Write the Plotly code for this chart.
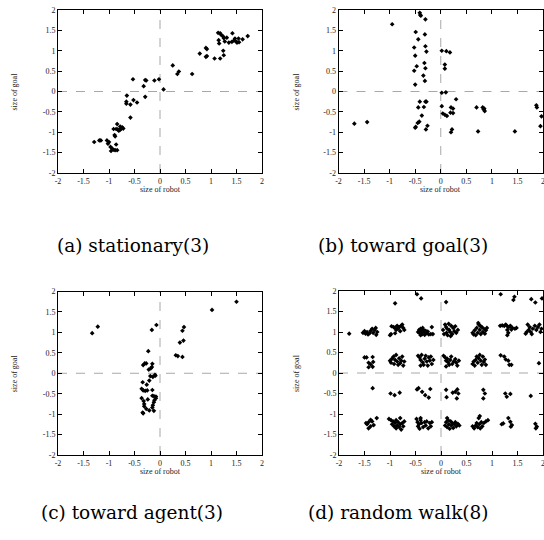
import plotly.graph_objects as go

# ---------------- data ----------------
tick_vals = [-2, -1.5, -1, -0.5, 0, 0.5, 1, 1.5, 2]
tick_text = ["-2", "-1.5", "-1", "-0.5", "0", "0.5", "1", "1.5", "2"]

captions = ["(a) stationary(3)", "(b) toward goal(3)", "(c) toward agent(3)", "(d) random walk(8)"]
x_title = "size of robot"
y_title = "size of goal"

a_x = [-1.29, -1.19, -1.16, -1.04, -1.00, -1.02, -0.97, -0.94, -0.96, -0.91, -0.88, -0.84, -0.86,
       -0.88, -0.89, -0.91, -0.86, -0.83, -0.84, -0.79, -0.76, -0.74, -0.78, -0.81, -0.72, -0.58,
       -0.66, -0.66, -0.65, -0.58, -0.52, -0.45, -0.53, -0.32, -0.29, -0.29, -0.27, -0.11, -0.02,
       0.07, 0.25, 0.34, 0.37, 0.63, 0.78, 0.90, 0.92, 0.90, 0.92, 1.07, 1.15, 1.16, 1.14, 1.18,
       1.20, 1.24, 1.25, 1.18, 1.24, 1.25, 1.27, 1.31, 1.35, 1.41, 1.45, 1.42, 1.47, 1.50, 1.51,
       1.55, 1.54, 1.62, 1.72]
a_y = [-1.24, -1.20, -1.20, -1.20, -1.24, -1.28, -1.36, -1.40, -1.46, -1.43, -1.44, -1.44, -1.30,
       -1.10, -1.07, -0.92, -0.92, -0.93, -0.80, -0.95, -0.91, -0.88, -0.86, -0.96, -0.91, -0.64,
       -0.25, -0.30, -0.10, -0.32, -0.21, -0.27, 0.30, 0.13, -0.13, 0.28, 0.27, 0.27, 0.30,
       0.05, 0.64, 0.43, 0.49, 0.43, 0.93, 1.07, 1.04, 0.85, 0.87, 0.81, 1.26, 1.18, 1.44, 1.43,
       1.39, 1.35, 1.31, 0.81, 1.00, 0.89, 1.23, 1.32, 1.20, 1.22, 1.25, 1.43, 1.30, 1.22, 1.20,
       1.21, 1.30, 1.28, 1.36]

b_x = [-1.69, -1.44, -0.95, -0.41, -0.40, -0.39, -0.30, -0.49, -0.44, -0.31, -0.52, -0.30, -0.28,
       -0.50, -0.32, -0.47, -0.30, -0.52, -0.34, -0.31, -0.50, -0.41, -0.30, -0.28, -0.44, -0.33,
       -0.37, -0.42, -0.45, -0.49, -0.50, -0.26, -0.29, 0.02, 0.11, 0.18, 0.08, 0.08, 0.02, 0.10,
       0.30, 0.02, 0.20, 0.24, 0.04, 0.08, 0.12, 0.19, 0.24, 0.22, 0.20, 0.70, 0.82, 0.84, 0.86,
       0.85, 0.73, 1.45, 1.87, 1.88, 1.97, 1.95]
b_y = [-0.79, -0.75, 1.65, 1.93, 1.88, 1.86, 1.77, 1.46, 1.28, 1.40, 1.08, 1.11, 0.98,
       0.88, 0.70, 0.62, 0.57, 0.51, 0.39, 0.26, 0.17, -0.25, -0.25, -0.25, -0.39, -0.38,
       -0.59, -0.74, -0.77, -0.87, -0.89, -0.84, -0.93, 1.00, 0.99, 0.96, 0.66, 0.56, -0.03, -0.02,
       -0.19, -0.36, -0.39, -0.42, -0.54, -0.57, -0.60, -0.52, -0.53, -0.93, -1.00, -0.39, -0.39, -0.44, -0.48,
       -0.42, -0.98, -0.98, -0.34, -0.39, -0.61, -0.85]

c_x = [-1.33, -1.22, -0.07, -0.16, -0.23, -0.33, -0.30, -0.27, -0.15, -0.22, -0.18, -0.16, -0.19,
       -0.21, -0.14, -0.10, -0.09, -0.34, -0.26, -0.36, -0.33, -0.29, -0.25, -0.15, -0.15, -0.12,
       -0.08, -0.08, -0.11, -0.12, -0.36, -0.32, -0.24, -0.31, -0.31, -0.14, -0.15, -0.34, -0.33,
       -0.27, -0.21, -0.12, 0.31, 0.35, 0.44, 0.39, 0.46, 0.44, 0.47, 1.02, 1.50]
c_y = [0.98, 1.14, 1.18, 1.06, 0.54, 0.20, 0.24, 0.24, 0.23, 0.09, 0.12, 0.15, -0.07,
       -0.18, -0.09, -0.04, -0.06, -0.22, -0.28, -0.38, -0.42, -0.43, -0.42, -0.41, -0.55, -0.56,
       -0.57, -0.61, -0.66, -0.71, -0.61, -0.68, -0.64, -0.75, -0.81, -0.78, -0.84, -0.96, -0.98,
       -0.87, -0.91, -0.92, 0.44, 0.42, 0.40, 0.75, 0.80, 1.04, 1.13, 1.55, 1.75]

d_x = [-1.80,
       -1.53, -1.50, -1.48, -1.45, -1.43, -1.40, -1.38, -1.35, -1.33, -1.30, -1.28, -1.27, -1.25,
       -1.00, -0.98, -0.97, -0.93, -0.90, -0.88, -0.86, -0.84, -0.82, -0.80, -0.78, -0.76, -0.74, -0.72, -0.90,
       -0.45, -0.43, -0.42, -0.40, -0.38, -0.37, -0.35, -0.33, -0.32, -0.30, -0.28, -0.26, -0.24, -0.20, -0.18, -0.16, -0.40, -0.36,
       0.04, 0.06, 0.08, 0.10, 0.11, 0.13, 0.15, 0.16, 0.18, 0.20, 0.22, 0.24, 0.26, 0.28, 0.30, 0.33, 0.12, 0.19,
       0.62, 0.64, 0.66, 0.68, 0.70, 0.72, 0.74, 0.76, 0.78, 0.80, 0.82, 0.84, 0.86, 0.88, 0.90, 0.73, 0.77,
       1.16, 1.20, 1.24, 1.27, 1.30, 1.33, 1.36, 1.40, 1.45, 1.48, 1.30, 1.32, 1.30, 1.38,
       1.66, 1.68, 1.70, 1.72, 1.74, 1.76, 1.78, 1.80, 1.84, 1.87, 1.90, 1.93, 1.95, 1.97,
       -1.50, -1.46, -1.34, -1.42, -1.38, -1.34, -1.42, -1.33,
       -1.00, -0.98, -0.96, -0.93, -0.90, -0.88, -0.86, -0.84, -0.82, -0.80, -0.78, -0.76, -0.74, -0.72, -0.92,
       -0.45, -0.42, -0.40, -0.38, -0.36, -0.34, -0.32, -0.30, -0.28, -0.26, -0.24, -0.22, -0.20, -0.18, -0.15, -0.40,
       0.05, 0.08, 0.10, 0.12, 0.14, 0.16, 0.18, 0.20, 0.22, 0.25, 0.28, 0.30, 0.32, 0.35, 0.10,
       0.62, 0.64, 0.66, 0.68, 0.70, 0.72, 0.74, 0.76, 0.78, 0.80, 0.82, 0.84, 0.86, 0.88,
       1.17, 1.24, 1.27, 1.32, 1.34, 1.38, 1.92,
       -1.34, -0.99, -0.91, -0.81, -0.47, -0.44, -0.37, -0.31, -0.24, -0.21, 0.10, 0.11, 0.23, 0.28,
       0.32, 0.31, 0.34, 0.83, 0.86, 0.83, 1.26, 1.29, 1.36, 1.76,
       -1.47, -1.42, -1.38, -1.35, -1.32, -1.26, -1.42, -1.38, -1.45,
       -1.02, -0.98, -0.96, -0.94, -0.92, -0.90, -0.88, -0.86, -0.84, -0.82, -0.80, -0.78, -0.76, -0.74, -0.72, -0.88, -0.80,
       -0.48, -0.46, -0.45, -0.43, -0.42, -0.40, -0.38, -0.35, -0.32, -0.30, -0.28, -0.25, -0.22, -0.20, -0.18, -0.40,
       0.08, 0.10, 0.12, 0.14, 0.15, 0.17, 0.19, 0.20, 0.22, 0.24, 0.26, 0.28, 0.30, 0.33, 0.36, 0.12,
       0.62, 0.65, 0.68, 0.70, 0.72, 0.74, 0.75, 0.77, 0.79, 0.81, 0.84, 0.88, 0.92, 0.76,
       1.19, 1.22, 1.32, 1.36, 1.39, 1.37,
       1.85, 1.88, 1.86,
       -0.90, -0.47, -0.39, 0.10, 1.17, 1.42, 1.44, 1.77, 1.85, 1.98]
d_y = [0.96,
       0.98, 1.02, 0.96, 1.00, 0.94, 0.97, 1.03, 1.08, 0.98, 1.05, 1.10, 0.93, 1.00,
       0.92, 0.95, 1.14, 1.12, 1.10, 1.05, 1.15, 1.08, 1.12, 1.02, 1.15, 1.18, 1.10, 1.05, 0.97,
       1.00, 1.05, 0.97, 1.08, 1.02, 0.95, 1.06, 1.00, 0.93, 1.03, 0.97, 1.01, 0.94, 0.95, 1.12, 0.95, 0.92, 1.10,
       1.05, 0.95, 1.18, 1.12, 0.98, 0.92, 1.20, 1.05, 1.00, 1.15, 0.95, 1.10, 1.02, 1.14, 0.98, 1.05, 1.08, 0.90,
       0.98, 0.94, 1.04, 0.92, 1.10, 0.98, 1.18, 1.05, 0.95, 1.12, 1.00, 1.08, 0.96, 1.04, 1.10, 1.22, 1.15,
       1.15, 1.16, 1.15, 1.18, 1.14, 1.12, 1.15, 1.10, 1.08, 1.10, 1.05, 0.98, 0.92, 1.06,
       0.96, 1.00, 1.18, 1.05, 1.12, 1.00, 0.95, 1.08, 1.15, 1.05, 1.12, 1.18, 1.00, 1.08,
       0.38, 0.38, 0.39, 0.25, 0.21, 0.15, 0.14, 0.27,
       0.30, 0.25, 0.35, 0.40, 0.32, 0.44, 0.28, 0.20, 0.36, 0.24, 0.30, 0.40, 0.18, 0.28, 0.22,
       0.42, 0.38, 0.32, 0.44, 0.26, 0.20, 0.35, 0.42, 0.28, 0.18, 0.38, 0.30, 0.40, 0.22, 0.32, 0.18,
       0.42, 0.38, 0.30, 0.35, 0.26, 0.20, 0.32, 0.40, 0.22, 0.28, 0.34, 0.25, 0.18, 0.30, 0.16,
       0.22, 0.28, 0.18, 0.32, 0.40, 0.25, 0.36, 0.44, 0.30, 0.20, 0.40, 0.27, 0.33, 0.20,
       0.43, 0.40, 0.33, 0.30, 0.20, 0.20, 0.24,
       -0.37, -0.50, -0.54, -0.48, -0.40, -0.37, -0.46, -0.54, -0.60, -0.39, -0.41, -0.59, -0.48, -0.46,
       -0.40, -0.62, -0.50, -0.41, -0.50, -0.62, -0.50, -0.58, -0.51, -0.56,
       -1.22, -1.20, -1.14, -1.18, -1.27, -1.10, -1.35, -1.30, -1.25,
       -1.12, -1.15, -1.25, -1.18, -1.30, -1.22, -1.35, -1.28, -1.20, -1.32, -1.25, -1.38, -1.22, -1.30, -1.18, -1.15, -1.10,
       -1.12, -1.20, -1.30, -1.25, -1.36, -1.15, -1.22, -1.32, -1.20, -1.28, -1.18, -1.35, -1.22, -1.30, -1.20, -1.10,
       -1.28, -1.20, -1.32, -1.15, -1.25, -1.36, -1.18, -1.28, -1.22, -1.34, -1.25, -1.20, -1.30, -1.24, -1.28, -1.10,
       -1.30, -1.35, -1.28, -1.22, -1.32, -1.10, -1.25, -1.35, -1.20, -1.30, -1.22, -1.18, -1.15, -1.05,
       -1.25, -1.23, -1.10, -1.19, -1.27, -1.31,
       -1.24, -1.31, -1.35,
       1.70, 1.92, 1.82, 1.73, 1.92, 1.78, 1.86, 1.80, 1.72, 1.82]

panels = [(a_x, a_y), (b_x, b_y), (c_x, c_y), (d_x, d_y)]

# ---------------- layout (pixel geometry) ----------------
W, H = 544, 540
# plot boxes: left, right, top, bottom in pixels (top-origin)
boxes = [(58, 262, 10, 173), (338.5, 543, 10, 173), (58, 262, 291.5, 455), (339, 543, 291, 455)]
caption_pos = [(133, 245), (403, 245), (132, 512), (398, 512)]
ylabel_x = [14, 296, 14, 296]

SERIF = "Liberation Serif"
CAP_FONT = "DejaVu Serif"

fig = go.Figure()
layout = dict(width=W, height=H, margin=dict(l=0, r=0, t=0, b=0, autoexpand=False),
              paper_bgcolor="white", plot_bgcolor="white", showlegend=False,
              font=dict(family=SERIF, size=8, color="black"))
annotations = []
shapes = []

for i, ((px, py), (l, r, t, b)) in enumerate(zip(panels, boxes)):
    n = "" if i == 0 else str(i + 1)
    xa, ya = "x" + n, "y" + n
    fig.add_trace(go.Scatter(x=px, y=py, mode="markers", xaxis=xa, yaxis=ya,
                             marker=dict(symbol="diamond", size=3.6, color="black",
                                         line=dict(width=0)),
                             cliponaxis=True, hoverinfo="skip"))
    axis_common = dict(range=[-2, 2], tickmode="array", tickvals=tick_vals, ticktext=tick_text,
                       ticks="inside", ticklen=4, tickwidth=1, tickcolor="black",
                       showline=True, linecolor="black", linewidth=1, mirror="allticks",
                       showgrid=False, zeroline=False, automargin=False,
                       ticklabeloverflow="allow",
                       tickfont=dict(family=SERIF, size=8, color="#222222"))
    layout["xaxis" + n] = dict(axis_common, domain=[l / W, r / W], anchor=ya)
    layout["yaxis" + n] = dict(axis_common, domain=[1 - b / H, 1 - t / H], anchor=xa)

    # dashed zero axes
    shapes.append(dict(type="line", xref=xa, yref=ya + " domain", x0=0, x1=0, y0=0, y1=1,
                       line=dict(color="#a8a8a8", width=1, dash="dash"), layer="below"))
    shapes.append(dict(type="line", xref=xa + " domain", yref=ya, x0=0, x1=1, y0=0, y1=0,
                       line=dict(color="#a8a8a8", width=1, dash="dash"), layer="below"))

    # axis titles
    annotations.append(dict(text=x_title, xref="paper", yref="paper",
                            x=(l + r) / 2 / W, y=1 - (b + 16) / H, showarrow=False,
                            xanchor="center", yanchor="middle",
                            font=dict(family=SERIF, size=8, color="#222222")))
    annotations.append(dict(text=y_title, xref="paper", yref="paper",
                            x=ylabel_x[i] / W, y=1 - (t + b) / 2 / H, showarrow=False,
                            textangle=-90, xanchor="center", yanchor="middle",
                            font=dict(family=SERIF, size=8, color="#222222")))
    # caption
    cx, cy = caption_pos[i]
    annotations.append(dict(text=captions[i], xref="paper", yref="paper",
                            x=cx / W, y=1 - cy / H, showarrow=False,
                            xanchor="center", yanchor="middle",
                            font=dict(family=CAP_FONT, size=18.5, color="black")))

layout["annotations"] = annotations
layout["shapes"] = shapes
fig.update_layout(**layout)
fig.write_html("out.html", config={"displayModeBar": False},
               post_script="document.body.style.margin='0';document.body.style.padding='0';")
